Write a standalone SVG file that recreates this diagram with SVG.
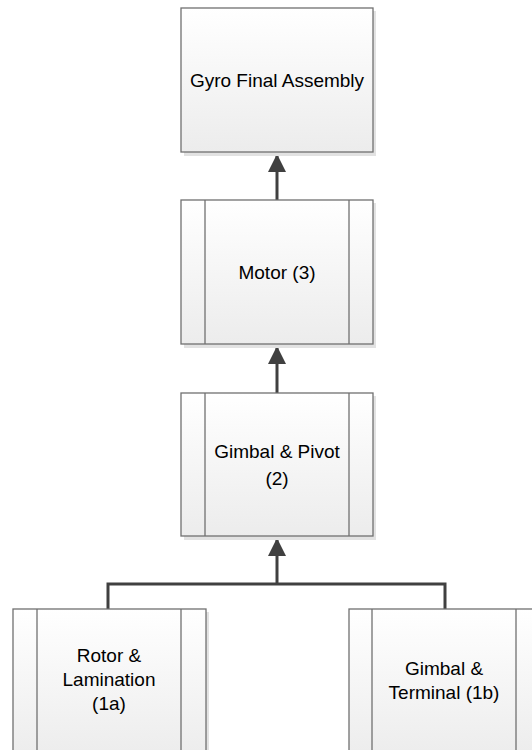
<svg xmlns="http://www.w3.org/2000/svg" width="532" height="750" viewBox="0 0 532 750">
<defs>
<linearGradient id="g" x1="0" y1="0" x2="0" y2="1">
<stop offset="0" stop-color="#ffffff"/>
<stop offset="1" stop-color="#ececec"/>
</linearGradient>
<marker id="arr" markerUnits="userSpaceOnUse" markerWidth="20" markerHeight="20" viewBox="0 0 20 20" refX="18" refY="10" orient="auto">
<path d="M0,1 L18,10 L0,19 Z" fill="#404040"/>
</marker>
</defs>
<style>
.box{fill:url(#g);stroke:#707070;stroke-width:1.3}
.sh{fill:#e2e2e2}
.div{stroke:#707070;stroke-width:1.3}
.t{font-family:"Liberation Sans",Arial,sans-serif;font-size:19px;fill:#000;text-anchor:middle}
.c{fill:none;stroke:#404040;stroke-width:3}
</style>
<rect width="532" height="750" fill="#ffffff"/>
<g id="connectors">
<path class="c" d="M277,200 L277,154" marker-end="url(#arr)"/>
<path class="c" d="M277,393 L277,346" marker-end="url(#arr)"/>
<path class="c" d="M108,609 L108,584 L445,584 L445,609"/>
<path class="c" d="M277,584 L277,538" marker-end="url(#arr)"/>
</g>
<g id="gyro">
<rect class="sh" x="184" y="11" width="192" height="145"/>
<rect class="box" x="181" y="8" width="192" height="144"/>
<text class="t" x="277" y="87">Gyro Final Assembly</text>
</g>
<g id="motor">
<rect class="sh" x="184" y="203" width="192" height="145"/>
<rect class="box" x="181" y="200" width="192" height="144"/>
<line class="div" x1="205" y1="200" x2="205" y2="344"/>
<line class="div" x1="349" y1="200" x2="349" y2="344"/>
<text class="t" x="277" y="279">Motor (3)</text>
</g>
<g id="gimbal-pivot">
<rect class="sh" x="184" y="396" width="192" height="144"/>
<rect class="box" x="181" y="393" width="192" height="143"/>
<line class="div" x1="205" y1="393" x2="205" y2="536"/>
<line class="div" x1="349" y1="393" x2="349" y2="536"/>
<text class="t" x="277" y="458">Gimbal &amp; Pivot</text>
<text class="t" x="277" y="485">(2)</text>
</g>
<g id="rotor">
<rect class="sh" x="16" y="612" width="193" height="150"/>
<rect class="box" x="13" y="609" width="193" height="150"/>
<line class="div" x1="37" y1="609" x2="37" y2="759"/>
<line class="div" x1="181" y1="609" x2="181" y2="759"/>
<text class="t" x="109" y="662">Rotor &amp;</text>
<text class="t" x="109" y="686">Lamination</text>
<text class="t" x="109" y="710">(1a)</text>
</g>
<g id="gimbal-terminal">
<rect class="box" x="349" y="609" width="193" height="150"/>
<line class="div" x1="372" y1="609" x2="372" y2="759"/>
<line class="div" x1="516" y1="609" x2="516" y2="759"/>
<text class="t" x="444" y="675">Gimbal &amp;</text>
<text class="t" x="444" y="699">Terminal (1b)</text>
</g>
</svg>
